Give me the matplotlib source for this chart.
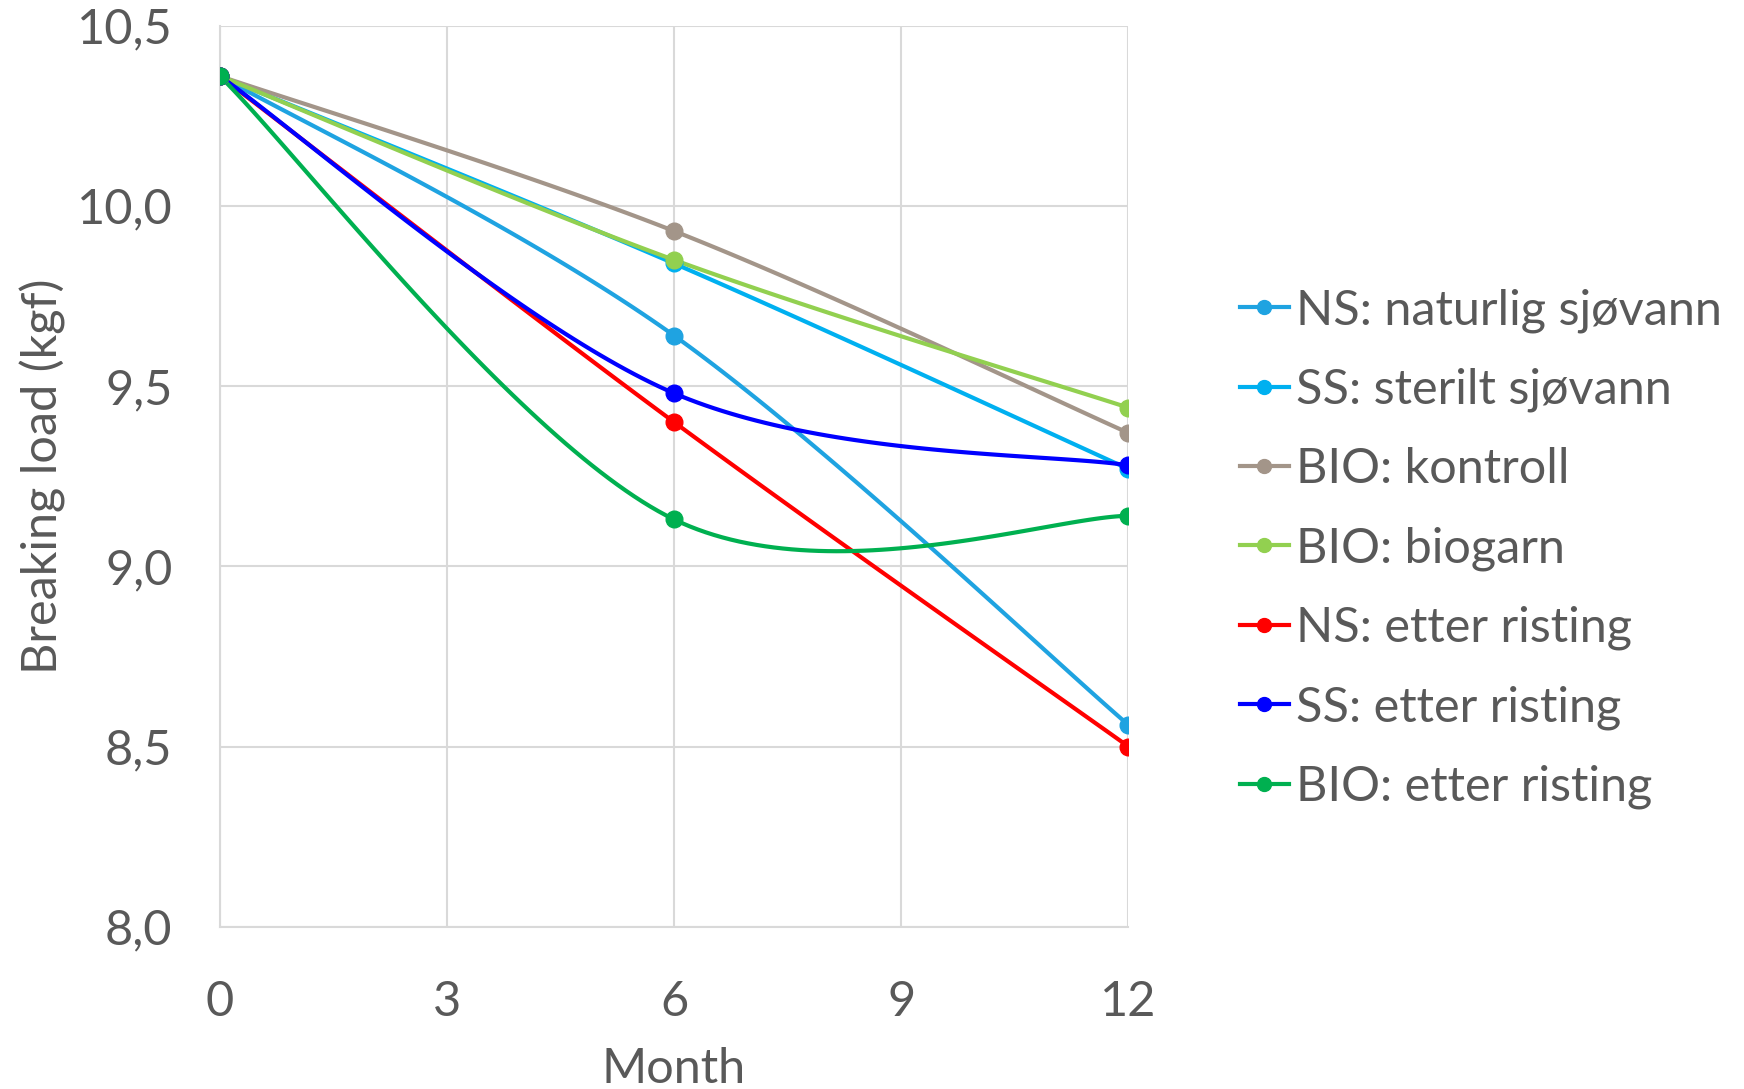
import numpy as np
import matplotlib
matplotlib.use("Agg")
import matplotlib.pyplot as plt
from matplotlib.lines import Line2D

#==============================================================================
# Data
#==============================================================================
months = [0, 6, 12]

series_names = ['NS: naturlig sjøvann', 'SS: sterilt sjøvann', 'BIO: kontroll',
                'BIO: biogarn', 'NS: etter risting', 'SS: etter risting',
                'BIO: etter risting']

ns_naturlig = [10.36, 9.64, 8.56]
ss_sterilt = [10.36, 9.84, 9.27]
bio_kontroll = [10.36, 9.93, 9.37]
bio_biogarn = [10.36, 9.85, 9.44]
ns_etter = [10.36, 9.40, 8.50]
ss_etter = [10.36, 9.48, 9.28]
bio_etter = [10.36, 9.13, 9.14]

colors = ['#1FA3E1', '#00B0F0', '#A39589', '#92D050', '#FF0000', '#0000FF', '#00B050']

all_series = [ns_naturlig, ss_sterilt, bio_kontroll, bio_biogarn,
              ns_etter, ss_etter, bio_etter]

#==============================================================================
# Excel-like smoothed line (Catmull-Rom bezier)
#==============================================================================
def smooth(xs, ys, n=60):
    p = np.column_stack([xs, ys]).astype(float)
    ext = np.vstack([p[0], p, p[-1]])
    out = []
    for i in range(len(p) - 1):
        p0, p1, p2, p3 = ext[i], ext[i + 1], ext[i + 2], ext[i + 3]
        c1 = p1 + (p2 - p0) / 6.0
        c2 = p2 - (p3 - p1) / 6.0
        t = np.linspace(0, 1, n)[:, None]
        seg = ((1 - t) ** 3) * p1 + 3 * ((1 - t) ** 2) * t * c1 + 3 * (1 - t) * t ** 2 * c2 + t ** 3 * p2
        out.append(seg if i == 0 else seg[1:])
    out = np.vstack(out)
    return out[:, 0], out[:, 1]

#==============================================================================
# Plot
#==============================================================================
plt.rcParams['font.family'] = ['Lato', 'DejaVu Sans']
text_col = '#595959'
fs = 35

fig = plt.figure(figsize=(17.44, 10.89), dpi=100)
ax = fig.add_axes([0.126, 0.149, 0.521, 0.8275])

handles = []
for name, ys, c in zip(series_names, all_series, colors):
    sx, sy = smooth(months, ys)
    ax.plot(sx, sy, color=c, lw=3.0, solid_capstyle='round', zorder=3)
    ax.plot(months, ys, 'o', color=c, ms=12, zorder=4)
    handles.append(Line2D([], [], color=c, lw=3.0, marker='o', ms=10))

ax.set_xlim(0, 12)
ax.set_ylim(8.0, 10.5)
ax.set_xticks([0, 3, 6, 9, 12])
ax.set_yticks([8.0, 8.5, 9.0, 9.5, 10.0, 10.5])
ax.set_yticklabels(['8,0', '8,5', '9,0', '9,5', '10,0', '10,5'])
ax.grid(True, color='#D9D9D9', lw=1.5)
ax.set_axisbelow(True)
for s in ['top', 'right']:
    ax.spines[s].set_visible(False)
for s in ['left', 'bottom']:
    ax.spines[s].set_color('#D9D9D9')
    ax.spines[s].set_linewidth(1.5)
ax.tick_params(length=0, labelsize=fs, labelcolor=text_col)
ax.tick_params(axis='y', pad=34)
ax.tick_params(axis='x', pad=38)

ax.set_xlabel('Month', fontsize=fs, color=text_col, labelpad=17)
ax.set_ylabel('Breaking load (kgf)', fontsize=fs, color=text_col, labelpad=8)

leg = fig.legend(handles, series_names, loc='center left', bbox_to_anchor=(0.711, 0.496),
                 frameon=False, fontsize=fs, handlelength=1.0, handletextpad=0.15,
                 labelspacing=0.72, labelcolor=text_col, borderaxespad=0, borderpad=0)

fig.savefig('out.png', dpi=100)
